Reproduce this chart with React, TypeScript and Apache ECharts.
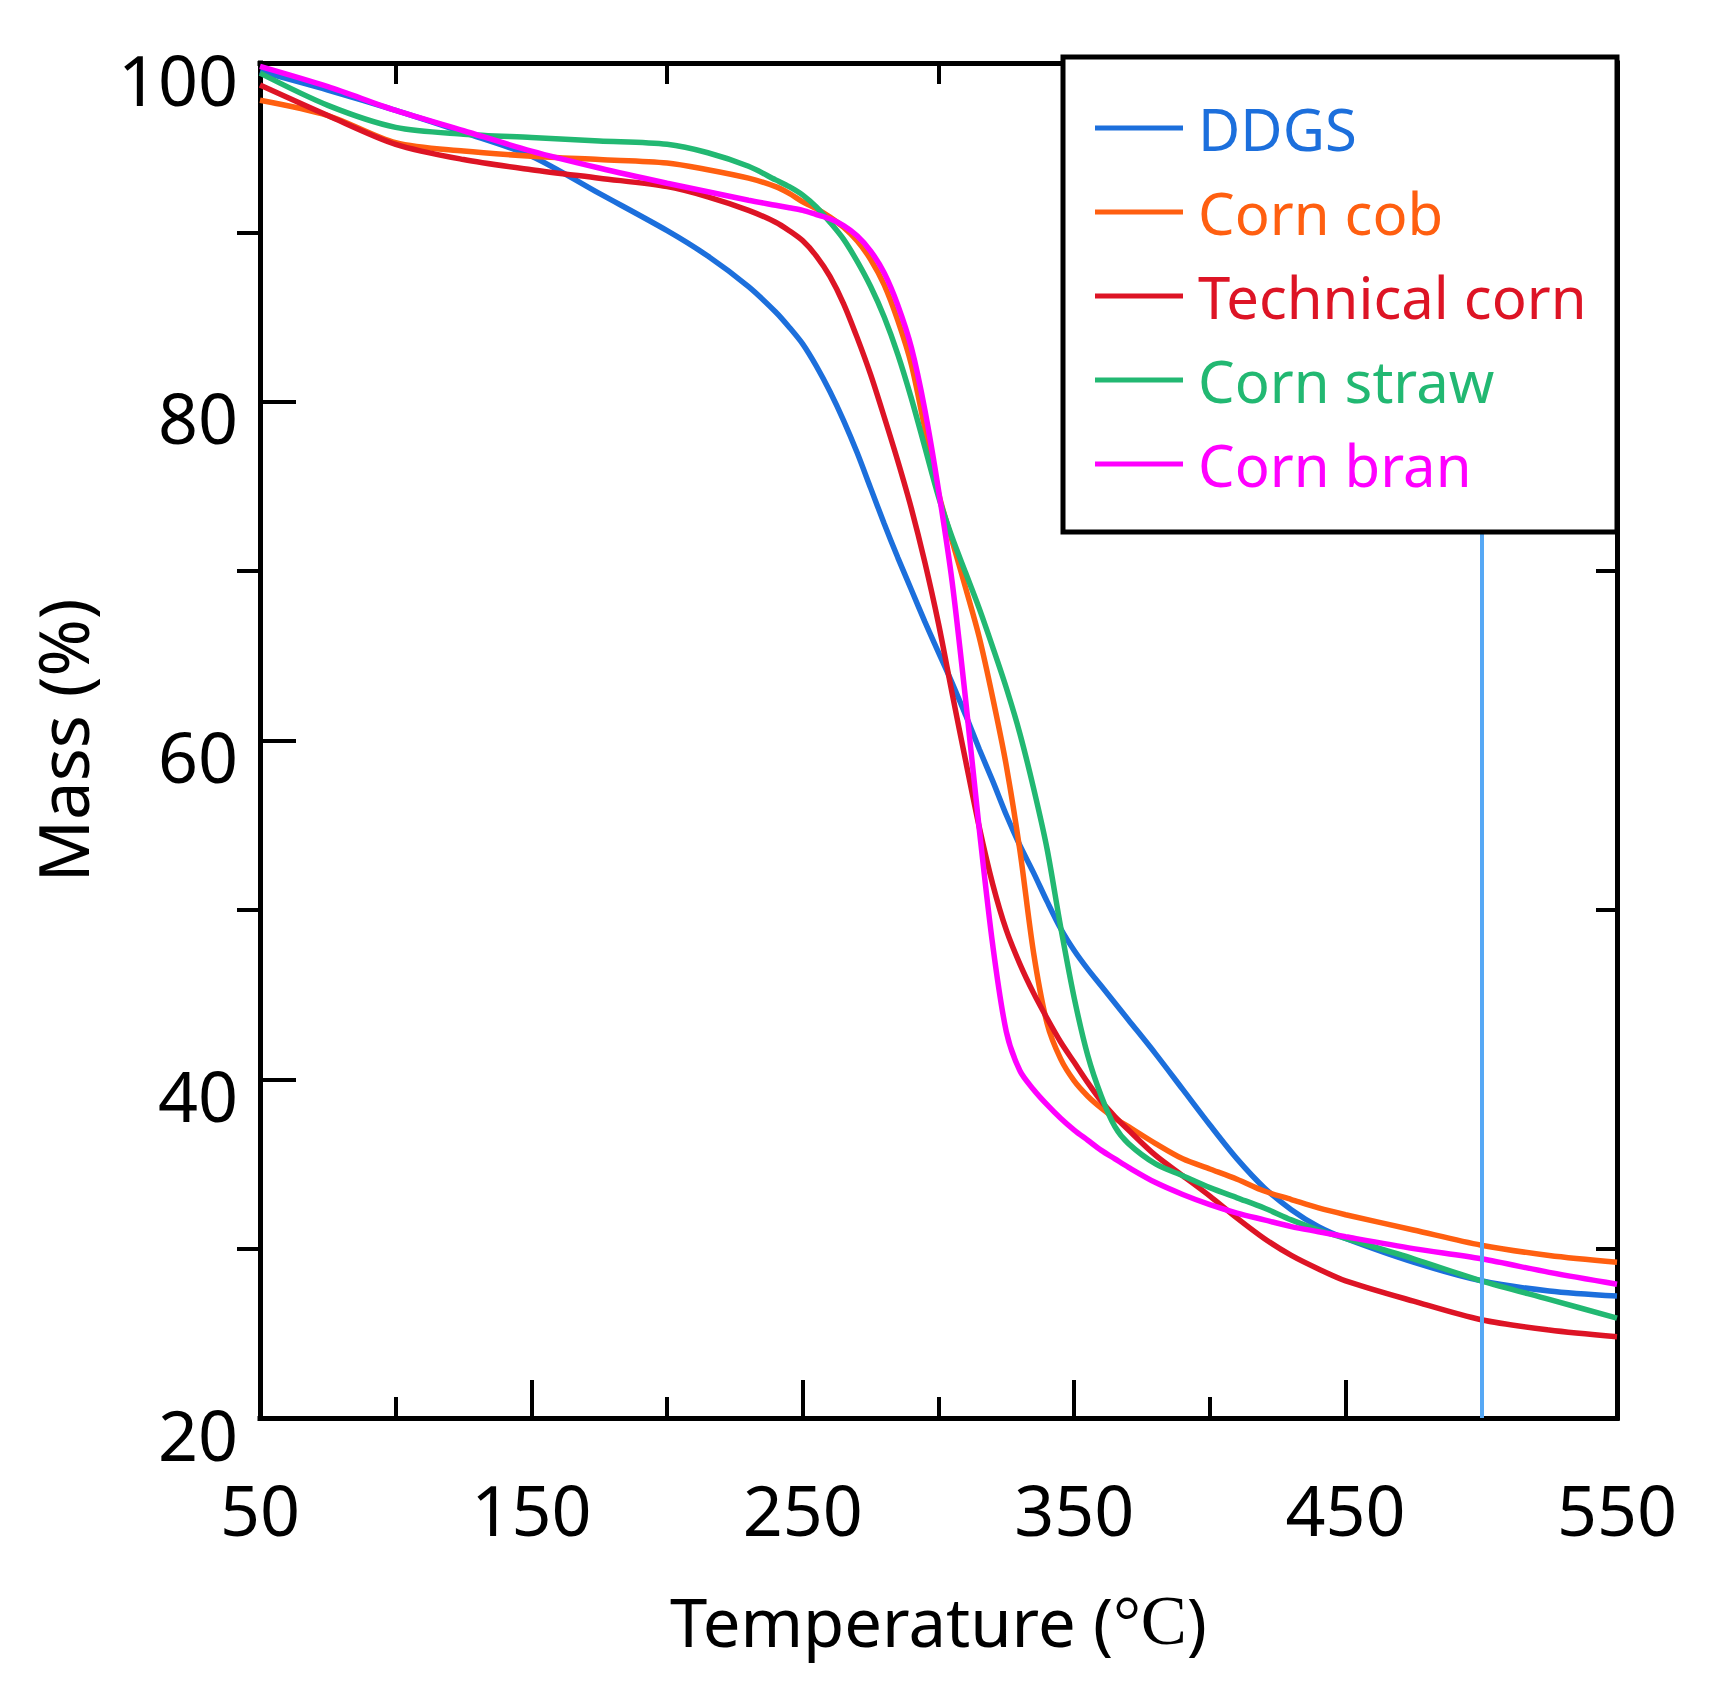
import React, { useEffect, useRef } from "react";
import * as echarts from "echarts";

// Temperature grid (°C) shared by all five thermogravimetric curves
const temperature = [
  50, 75, 100, 125, 150, 175, 200, 215, 230, 240, 245, 250, 255, 260, 265, 270, 275, 280, 285, 290,
  295, 300, 305, 310, 315, 320, 325, 330, 335, 340, 345, 350, 355, 360, 365, 370, 380, 390, 400, 410,
  420, 430, 440, 450, 475, 500, 525, 550,
];

// Remaining mass (%) for each material
const ddgs = [
  99.5, 98.4, 97.2, 95.9, 94.5, 92.3, 90.1, 88.6, 86.8, 85.3, 84.4, 83.4, 82.1, 80.6, 78.9, 77.0, 74.9, 72.8, 70.8, 68.9,
  67.0, 65.2, 63.4, 61.5, 59.5, 57.6, 55.6, 53.8, 52.2, 50.5, 48.9, 47.6, 46.5, 45.5, 44.5, 43.5, 41.5, 39.4, 37.3, 35.3,
  33.6, 32.3, 31.3, 30.6, 29.2, 28.1, 27.5, 27.2,
];
const cornCob = [
  97.8, 96.9, 95.3, 94.8, 94.5, 94.3, 94.1, 93.7, 93.2, 92.7, 92.3, 91.8, 91.4, 90.9, 90.3, 89.5, 88.4, 86.9, 84.8, 82.2,
  78.4, 74.6, 71.8, 69.0, 66.1, 62.5, 58.5, 53.5, 47.5, 43.3, 41.2, 39.9, 39.0, 38.3, 37.7, 37.2, 36.2, 35.3, 34.7, 34.1,
  33.4, 32.9, 32.4, 32.0, 31.1, 30.2, 29.6, 29.2,
];
const technicalCorn = [
  98.7, 96.9, 95.2, 94.3, 93.7, 93.2, 92.7, 92.1, 91.3, 90.6, 90.1, 89.5, 88.6, 87.4, 85.8, 83.8, 81.6, 79.1, 76.5, 73.7,
  70.5, 66.9, 62.8, 58.8, 54.9, 51.5, 48.8, 46.8, 45.1, 43.6, 42.2, 41.0, 39.8, 38.7, 37.8, 37.0, 35.5, 34.3, 33.1, 31.8,
  30.6, 29.6, 28.8, 28.1, 26.9, 25.8, 25.2, 24.8,
];
const cornStraw = [
  99.4, 97.5, 96.2, 95.8, 95.6, 95.4, 95.2, 94.7, 93.9, 93.1, 92.7, 92.2, 91.5, 90.6, 89.6, 88.3, 86.8, 85.0, 82.8, 80.2,
  77.3, 74.4, 72.0, 69.9, 67.8, 65.5, 63.1, 60.4, 57.2, 53.6, 49.0, 44.8, 41.4, 39.0, 37.2, 36.2, 35.0, 34.3, 33.6, 33.0,
  32.4, 31.7, 31.1, 30.6, 29.4, 28.1, 27.0, 25.9,
];
const cornBran = [
  99.8, 98.6, 97.2, 96.0, 94.8, 93.8, 92.9, 92.4, 91.9, 91.6, 91.45, 91.3, 91.05, 90.8, 90.4, 89.8, 88.9, 87.6, 85.7, 83.2,
  79.5, 74.8, 69.4, 62.4, 54.8, 47.9, 42.8, 40.5, 39.4, 38.5, 37.7, 37.0, 36.4, 35.8, 35.3, 34.8, 33.9, 33.2, 32.6, 32.1,
  31.7, 31.3, 31.0, 30.7, 30.0, 29.4, 28.6, 27.9,
];

const seriesNames = ["DDGS", "Corn cob", "Technical corn", "Corn straw", "Corn bran"];
const seriesValues = [ddgs, cornCob, technicalCorn, cornStraw, cornBran];
const seriesColors = ["#1c6fdc", "#ff5f10", "#dd1425", "#22b872", "#ff00ff"];

// Axis ranges and the marked temperature
const xRange = [50, 550];
const yRange = [20, 100];
const markedTemperature = 500;

const FONT = "'Noto Sans', 'Open Sans', sans-serif";

export default function App() {
  const ref = useRef<HTMLDivElement>(null);

  useEffect(() => {
    document.body.style.margin = "0";
    if (!ref.current) return;
    const chart = echarts.init(ref.current, undefined, { renderer: "svg" });

    const gridLeft = 260;
    const gridTop = 63;
    const gridWidth = 1357;
    const gridHeight = 1355;

    const frameLine = { color: "#000", width: 5, cap: "square" as const };

    const series: any[] = seriesNames.map((name, i) => ({
      type: "line",
      name,
      data: temperature.map((t, k) => [t, seriesValues[i][k]]),
      smooth: 0.3,
      symbol: "none",
      showSymbol: false,
      lineStyle: { color: seriesColors[i], width: 5.5 },
      itemStyle: { color: seriesColors[i] },
      z: 2,
    }));
    series[0].markLine = {
      silent: true,
      symbol: "none",
      label: { show: false },
      lineStyle: { color: "#56a8f5", width: 4, type: "solid" },
      data: [{ xAxis: markedTemperature }],
    };

    chart.setOption({
      animation: false,
      backgroundColor: "#fff",
      grid: { left: gridLeft, top: gridTop, width: gridWidth, height: gridHeight, containLabel: false },
      xAxis: [
        {
          type: "value",
          position: "bottom",
          min: xRange[0],
          max: xRange[1],
          interval: 100,
          z: 3,
          axisLine: { show: true, onZero: false, lineStyle: frameLine },
          axisTick: { show: true, inside: true, length: 38, lineStyle: { color: "#000", width: 4 } },
          minorTick: { show: true, splitNumber: 2, length: 21, lineStyle: { color: "#000", width: 4 } },
          splitLine: { show: false },
          minorSplitLine: { show: false },
          axisLabel: { color: "#000", fontSize: 70, fontFamily: FONT, margin: 56 },
          name: "Temperature ({c|°C})",
          nameLocation: "middle",
          nameGap: 168,
          nameTextStyle: {
            color: "#000",
            fontSize: 67,
            fontFamily: FONT,
            rich: { c: { color: "#000", fontSize: 69, fontFamily: "'Liberation Serif', serif" } },
          },
        },
        {
          type: "value",
          position: "top",
          min: xRange[0],
          max: xRange[1],
          interval: 100,
          axisLine: { show: true, onZero: false, lineStyle: frameLine },
          axisTick: { show: false, inside: true },
          minorTick: { show: true, splitNumber: 2, length: 21, lineStyle: { color: "#000", width: 4 } },
          splitLine: { show: false },
          axisLabel: { show: false },
        },
      ],
      yAxis: [
        {
          type: "value",
          position: "left",
          min: yRange[0],
          max: yRange[1],
          interval: 20,
          axisLine: { show: true, onZero: false, lineStyle: frameLine },
          axisTick: { show: true, inside: true, length: 36, lineStyle: { color: "#000", width: 4 } },
          splitLine: { show: false },
          axisLabel: {
            color: "#000",
            fontSize: 70,
            fontFamily: FONT,
            margin: 22,
            verticalAlign: "top",
            lineHeight: 31,
          },
          name: "Mass (%)",
          nameLocation: "middle",
          nameGap: 164,
          nameRotate: 90,
          nameTextStyle: { color: "#000", fontSize: 69, fontFamily: FONT },
        },
        {
          type: "value",
          position: "left",
          min: yRange[0],
          max: yRange[1],
          interval: 20,
          axisLine: { show: false },
          axisTick: { show: false, inside: false },
          minorTick: { show: true, splitNumber: 2, length: 23, lineStyle: { color: "#000", width: 4 } },
          splitLine: { show: false },
          axisLabel: { show: false },
        },
        {
          type: "value",
          position: "right",
          min: yRange[0],
          max: yRange[1],
          interval: 20,
          axisLine: { show: true, onZero: false, lineStyle: frameLine },
          axisTick: { show: false, inside: true },
          minorTick: { show: true, splitNumber: 2, length: 21, lineStyle: { color: "#000", width: 4 } },
          splitLine: { show: false },
          axisLabel: { show: false },
        },
      ],
      legend: {
        orient: "vertical",
        left: 1095,
        top: 98,
        padding: 0,
        itemGap: 24,
        itemWidth: 88,
        itemHeight: 5,
        icon: "rect",
        z: 20,
        data: seriesNames.map((name, i) => ({
          name,
          itemStyle: { color: seriesColors[i] },
          textStyle: { color: seriesColors[i] },
        })),
        textStyle: { fontSize: 58, fontFamily: FONT, lineHeight: 60, padding: [0, 0, 0, 10] },
      },
      graphic: [
        {
          type: "rect",
          z: 10,
          shape: { x: 1063, y: 57, width: 554, height: 475 },
          style: { fill: "#fff", stroke: "#000", lineWidth: 5 },
        },
      ],
      series,
    });

    return () => chart.dispose();
  }, []);

  return <div ref={ref} style={{ width: 1710, height: 1691 }} />;
}
